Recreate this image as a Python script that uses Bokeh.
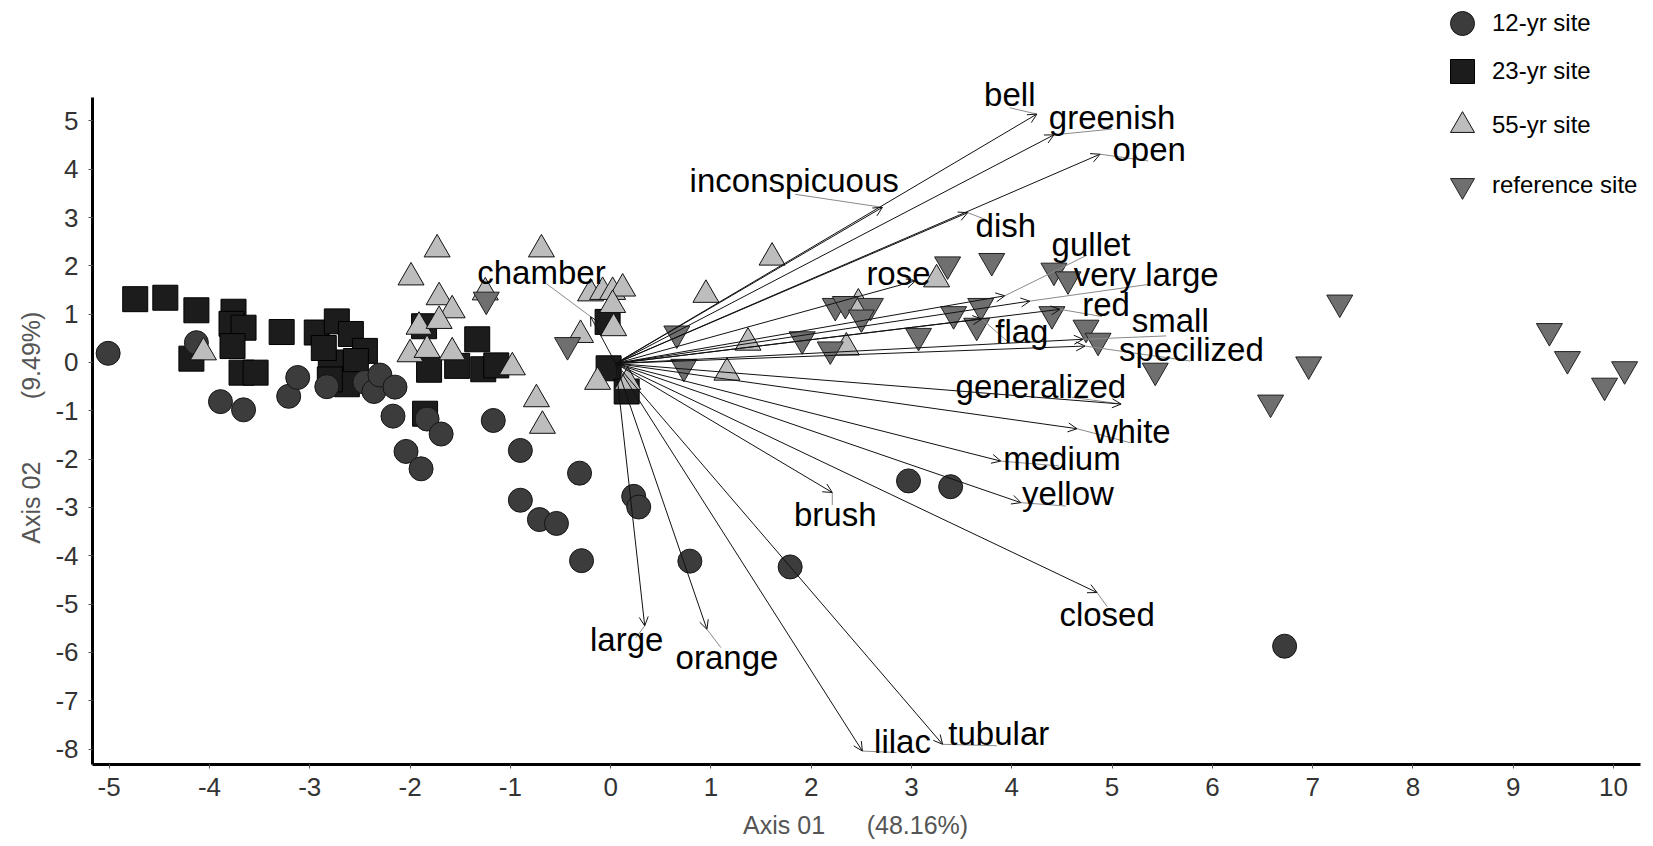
from bokeh.plotting import figure
from bokeh.models import (ColumnDataSource, Arrow, OpenHead, Legend, LegendItem,
                          FixedTicker, Range1d)
from bokeh.embed import file_html
from bokeh.resources import INLINE
from bokeh.core.properties import value

# ---------------- data ----------------
# 12-yr site (circles)
site12_x = [-5.01, -4.13, -3.89, -3.66, -3.21, -3.12, -2.83, -2.45, -2.36, -2.30,
            -2.15, -2.17, -2.04, -1.89, -1.83, -1.69, -1.17, -0.90, -0.90, -0.71,
            -0.54, -0.31, -0.29, 0.23, 0.28, 0.79, 1.79, 2.97, 3.39, 6.72]
site12_y = [0.19, 0.41, -0.81, -0.98, -0.70, -0.31, -0.50, -0.41, -0.60, -0.26,
            -0.51, -1.11, -1.84, -2.20, -1.17, -1.48, -1.20, -1.82, -2.85, -3.25,
            -3.33, -2.29, -4.10, -2.77, -2.99, -4.11, -4.23, -2.45, -2.57, -5.87]

# 23-yr site (squares)
site23_x = [-4.74, -4.44, -4.13, -4.18, -3.76, -3.78, -3.66, -3.77, -3.68, -3.54,
            -3.28, -2.93, -2.73, -2.59, -2.45, -2.79, -2.54, -2.63, -2.80, -2.86,
            -1.86, -1.33, -1.81, -1.53, -1.27, -1.14, -1.85, -0.02, 0.16, -0.03]
site23_y = [1.31, 1.34, 1.08, 0.08, 1.05, 0.80, 0.72, 0.34, -0.21, -0.21,
            0.63, 0.62, 0.85, 0.59, 0.24, 0.00, 0.03, -0.45, -0.35, 0.30,
            0.75, 0.48, -0.15, -0.07, -0.14, -0.06, -1.06, -0.12, -0.60, 0.84]

# 55-yr site (triangles)
site55_x = [-4.06, -1.99, -1.73, -1.71, -1.58, -1.91, -1.71, -2.00, -1.83, -1.58,
            -1.25, -0.98, -0.69, -0.74, -0.68, -0.30, -0.20, -0.08, 0.02, 0.12,
            0.02, 0.03, -0.13, 0.17, 1.61, 0.95, 1.37, 1.16, 2.35, 3.25, 2.47]
site55_y = [0.21, 1.76, 2.34, 1.35, 1.08, 0.74, 0.86, 0.17, 0.26, 0.21,
            1.45, -0.10, 2.34, -0.76, -1.31, 0.57, 1.43, 1.46, 1.46, 1.53,
            1.19, 0.71, -0.40, -0.40, 2.17, 1.40, 0.41, -0.21, 0.31, 1.72, 1.22]

# reference site (inverted triangles)
ref_x = [-0.43, -1.24, 0.66, 0.73, 1.91, 2.19, 2.24, 2.34, 2.59, 2.50,
         3.07, 3.36, 3.80, 3.42, 3.69, 3.65, 4.42, 4.56, 4.40, 4.74,
         4.86, 5.43, 6.58, 6.96, 7.27, 9.36, 9.54, 9.91, 10.11]
ref_y = [0.36, 1.30, 0.60, -0.09, 0.48, 0.27, 1.17, 1.21, 1.17, 0.93,
         0.55, 2.03, 2.10, 1.00, 1.17, 0.76, 1.90, 1.72, 1.00, 0.72,
         0.45, -0.17, -0.83, -0.04, 1.24, 0.65, 0.07, -0.48, -0.14]

# biplot vectors (trait names and arrow tips)
trait_names = ["bell", "greenish", "open", "inconspicuous", "dish", "chamber",
               "rose", "gullet", "very large", "red", "flag", "small",
               "specilized", "generalized", "white", "medium", "yellow",
               "brush", "closed", "large", "orange", "lilac", "tubular"]
tip_x = [4.25, 4.42, 4.88, 2.71, 3.56, -0.20, 3.04, 3.93, 4.18, 4.48, 3.70, 4.71,
         4.73, 5.09, 4.65, 3.89, 4.09, 2.21, 4.85, 0.34, 0.96, 2.51, 3.31]
tip_y = [5.14, 4.71, 4.31, 3.21, 3.10, 0.95, 1.69, 1.38, 1.27, 1.10, 0.90, 0.48,
         0.34, -0.86, -1.37, -2.04, -2.90, -2.69, -4.76, -5.45, -5.52, -8.04, -7.90]
origin_x = 0.05
origin_y = -0.02

# label positions
label_x = [3.98, 5.00, 5.37, 1.83, 3.94, -0.69, 2.87, 4.79, 5.34, 4.94, 4.10, 5.58,
           5.79, 4.29, 5.20, 4.50, 4.56, 2.24, 4.95, 0.16, 1.16, 2.91, 3.87]
label_y = [5.55, 5.06, 4.40, 3.76, 2.83, 1.86, 1.85, 2.44, 1.83, 1.19, 0.65, 0.86,
           0.26, -0.50, -1.43, -1.98, -2.72, -3.15, -5.22, -5.74, -6.11, -7.85, -7.67]
# leader-line ends (near the labels)
lead_x = [3.98, 5.00, 5.36, 1.84, 3.75, -0.64, 3.00, 4.75, 5.38, 4.90, 3.95, 5.54,
          5.78, 4.60, 5.18, 4.47, 4.54, 2.21, 4.95, 0.25, 1.10, 2.85, 3.85]
lead_y = [5.27, 4.83, 4.17, 3.48, 2.95, 1.63, 1.72, 2.22, 1.62, 0.95, 0.45, 0.55,
          0.03, -0.72, -1.66, -2.14, -2.97, -2.95, -5.05, -5.70, -5.90, -8.07, -7.93]

x_ticks = list(range(-5, 11))
y_ticks = list(range(-8, 6))
NB = "\u00a0"
x_title = "Axis 01" + NB * 6 + "(48.16%)" + NB * 5
y_title = "Axis 02" + NB * 9 + "(9.49%)" + NB * 13
legend_labels = ["12-yr site", "23-yr site", "55-yr site", "reference site"]

FONT = "Liberation Sans"

# ---------------- figure ----------------
p = figure(width=1653, height=846, output_backend="svg", toolbar_location=None,
           x_range=Range1d(-5.166, 10.398), y_range=Range1d(-8.318, 7.49),
           min_border_left=92, min_border_right=0, min_border_top=0,
           min_border_bottom=82)
p.outline_line_color = None
p.grid.visible = False
p.background_fill_color = "white"

for ax in (p.xaxis[0], p.yaxis[0]):
    ax.axis_line_width = 3
    ax.axis_line_color = "black"
    ax.major_tick_out = 4
    ax.major_tick_in = 0
    ax.major_tick_line_color = "#555555"
    ax.minor_tick_line_color = None
    ax.major_label_text_font = FONT
    ax.major_label_text_font_size = "26px"
    ax.major_label_text_color = "#333333"
    ax.axis_label_text_font = FONT
    ax.axis_label_text_font_size = "25px"
    ax.axis_label_text_font_style = "normal"
    ax.axis_label_text_color = "#555555"

p.xaxis.ticker = FixedTicker(ticks=x_ticks)
p.yaxis.ticker = FixedTicker(ticks=y_ticks)
p.xaxis.major_label_overrides = {t: str(t) for t in x_ticks}
p.yaxis.major_label_overrides = {t: str(t) for t in y_ticks}
p.xaxis.bounds = (-5.166, 10.27)
p.yaxis.bounds = (-8.318, 5.48)
p.xaxis.axis_label = x_title
p.yaxis.axis_label = y_title
p.xaxis.major_label_standoff = 9
p.yaxis.major_label_standoff = 10
p.xaxis.axis_label_standoff = 12
p.yaxis.axis_label_standoff = 7

r23 = p.scatter(site23_x, site23_y, marker="square", size=25,
                fill_color="#1c1c1c", line_color="#000000", line_width=1)
r12 = p.scatter(site12_x, site12_y, marker="circle", size=24,
                fill_color="#3c3c3c", line_color="#151515", line_width=1)
r55 = p.scatter(site55_x, site55_y, marker="triangle", size=26,
                fill_color="#bdbdbd", line_color="#111111", line_width=1)
rref = p.scatter(ref_x, ref_y, marker="inverted_triangle", size=26,
                 fill_color="#6f6f6f", line_color="#222222", line_width=1)

vec = ColumnDataSource(dict(
    x0=[origin_x] * len(tip_x), y0=[origin_y] * len(tip_y),
    x1=tip_x, y1=tip_y, name=trait_names,
    lx=label_x, ly=label_y, ex=lead_x, ey=lead_y))

p.segment(x0="x1", y0="y1", x1="ex", y1="ey", source=vec,
          line_color="#8a8a8a", line_width=1)
p.add_layout(Arrow(end=OpenHead(size=9, line_width=1, line_color="#111111"),
                   x_start="x0", y_start="y0", x_end="x1", y_end="y1",
                   source=vec, line_color="#111111", line_width=1))
p.text(x="lx", y="ly", text="name", source=vec, text_font=value(FONT),
       text_font_size="33px", text_align="center", text_baseline="middle",
       text_color="black")

# legend: one single-item legend per site so each sits where the original has it
legend_bottoms = [711, 663, 609, 549]
for lab, rend, yb in zip(legend_labels, [r12, r23, r55, rref], legend_bottoms):
    lg = Legend(items=[LegendItem(label=lab, renderers=[rend])],
                location=(1340, yb), glyph_width=60, glyph_height=60,
                label_standoff=0, padding=0, margin=0,
                border_line_alpha=0, background_fill_alpha=0,
                label_text_font=FONT, label_text_font_size="24px",
                label_text_color="black")
    p.add_layout(lg)

open("out.html", "w").write(file_html(p, INLINE))
